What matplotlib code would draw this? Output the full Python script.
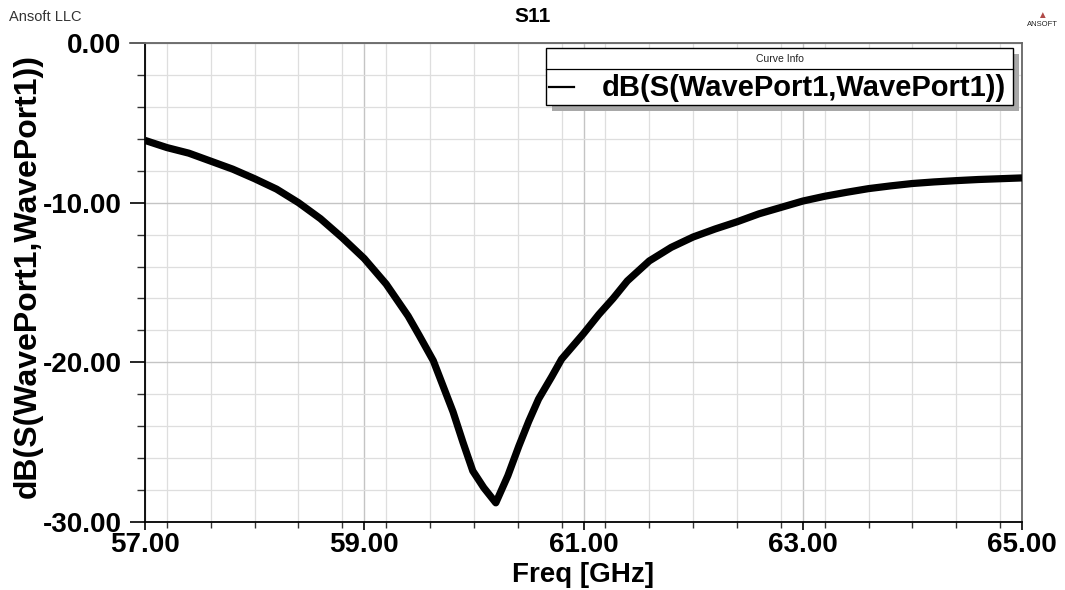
import matplotlib
matplotlib.use("Agg")
import matplotlib.pyplot as plt
from matplotlib.patches import Rectangle
from matplotlib.lines import Line2D
from matplotlib.ticker import MultipleLocator, FixedLocator

plt.rcParams['font.family'] = ['Liberation Sans', 'DejaVu Sans']

# ---- data ----
freq_ghz = [57.0, 57.2, 57.4, 57.6, 57.8, 58.0, 58.2, 58.4, 58.6, 58.8,
            59.0, 59.2, 59.4, 59.5, 59.63, 59.72, 59.81, 59.9, 59.99, 60.09,
            60.2, 60.31, 60.41, 60.5, 60.59, 60.71, 60.8, 61.0, 61.14, 61.27,
            61.4, 61.6, 61.8, 62.0, 62.2, 62.4, 62.6, 62.8, 63.0, 63.2,
            63.4, 63.6, 63.8, 64.0, 64.2, 64.4, 64.6, 64.8, 65.0]
s11_db = [-6.1, -6.55, -6.9, -7.4, -7.9, -8.5, -9.15, -10.0, -11.0, -12.2,
          -13.5, -15.1, -17.1, -18.3, -19.9, -21.5, -23.1, -25.0, -26.8, -27.85,
          -28.8, -27.1, -25.25, -23.7, -22.3, -20.9, -19.8, -18.2, -17.0, -16.0,
          -14.9, -13.65, -12.8, -12.15, -11.65, -11.2, -10.7, -10.3, -9.9, -9.6,
          -9.35, -9.12, -8.95, -8.8, -8.7, -8.62, -8.55, -8.5, -8.45]
x_major = [57.0, 59.0, 61.0, 63.0, 65.0]
x_labels = ["57.00", "59.00", "61.00", "63.00", "65.00"]
y_major = [0.0, -10.0, -20.0, -30.0]
y_labels = ["0.00", "-10.00", "-20.00", "-30.00"]
title = "S11"
xlabel = "Freq [GHz]"
ylabel = "dB(S(WavePort1,WavePort1))"
legend_title = "Curve Info"
legend_entry = "dB(S(WavePort1,WavePort1))"

W, H = 1065, 590
fig = plt.figure(figsize=(W / 100, H / 100), dpi=100)
fig.patch.set_facecolor("white")


def fx(x):
    return x / W


def fy(y):
    return 1 - y / H


L, R, T, B = 145, 1022, 43, 522
ax = fig.add_axes([L / W, 1 - B / H, (R - L) / W, (B - T) / H])

ax.plot(freq_ghz, s11_db, color="black", lw=5.2, solid_joinstyle="round",
        solid_capstyle="butt", zorder=3)

ax.set_xlim(57, 65)
ax.set_ylim(-30, 0)
ax.xaxis.set_major_locator(FixedLocator(x_major))
ax.set_xticklabels(x_labels)
ax.yaxis.set_major_locator(FixedLocator(y_major))
ax.set_yticklabels(y_labels)
ax.xaxis.set_minor_locator(MultipleLocator(0.4))
ax.yaxis.set_minor_locator(MultipleLocator(2))

ax.grid(which="minor", color="#dedede", lw=0.9, zorder=0)
ax.grid(which="major", color="#c4c4c4", lw=1.0, zorder=0)
ax.set_axisbelow(True)

for s in ["left", "bottom"]:
    ax.spines[s].set_color("black")
    ax.spines[s].set_linewidth(1.3)
for s in ["top", "right"]:
    ax.spines[s].set_color("#666666")
    ax.spines[s].set_linewidth(1.3)

ax.tick_params(axis="y", which="major", direction="out", length=11, width=1.2,
               pad=6, labelsize=20, colors="black")
ax.tick_params(axis="y", which="minor", direction="out", length=6, width=1.0,
               colors="#333333")
ax.tick_params(axis="x", which="major", direction="out", length=6, width=1.2,
               pad=1.5, labelsize=20, colors="black")
ax.tick_params(axis="x", which="minor", direction="out", length=4, width=1.0,
               colors="#333333")
for lab in ax.get_xticklabels() + ax.get_yticklabels():
    lab.set_fontweight("bold")

# top spine continues left to the 0.00 label
fig.add_artist(Line2D([fx(130), fx(L)], [fy(T), fy(T)],
                      color="#666666", lw=1.3, transform=fig.transFigure))

fig.text(fx(533), fy(17), title, ha="center", va="center",
         fontsize=15, fontweight="bold")
fig.text(fx(9), fy(17), "Ansoft LLC", ha="left", va="center",
         fontsize=10.5, color="#333333")
fig.text(fx(583), fy(575), xlabel, ha="center", va="center",
         fontsize=20, fontweight="bold")
fig.text(fx(28), fy(276), ylabel, ha="center", va="center",
         rotation=90, fontsize=23, fontweight="bold")

# logo
fig.text(fx(1042), fy(15), "\u25B2", ha="center", va="center",
         fontsize=7, color="#b04a48")
fig.text(fx(1042), fy(25), "ANSOFT", ha="center", va="center",
         fontsize=5.5, color="#222222")

# legend box with shadow
lx0, ly0, lx1, ly1, ldiv = 546, 48, 1013, 105, 69
fig.add_artist(Rectangle((fx(lx0 + 6), fy(ly1 + 6)), (lx1 - lx0) / W, (ly1 - ly0) / H,
                         transform=fig.transFigure, facecolor="#a8a8a8",
                         edgecolor="none", zorder=5))
fig.add_artist(Rectangle((fx(lx0), fy(ly1)), (lx1 - lx0) / W, (ly1 - ly0) / H,
                         transform=fig.transFigure, facecolor="white",
                         edgecolor="black", lw=1.0, zorder=6))
fig.add_artist(Line2D([fx(lx0), fx(lx1)], [fy(ldiv), fy(ldiv)], color="black",
                      lw=0.9, transform=fig.transFigure, zorder=7))
fig.text(fx((lx0 + lx1) / 2), fy(59), legend_title, ha="center", va="center",
         fontsize=7.5, color="#222222", zorder=8)
fig.add_artist(Line2D([fx(549), fx(574)], [fy(87), fy(87)], color="black",
                      lw=1.6, transform=fig.transFigure, zorder=8))
fig.text(fx(1006), fy(88), legend_entry, ha="right", va="center",
         fontsize=21, fontweight="bold", zorder=8)

fig.savefig("out.png", dpi=100, facecolor="white")
